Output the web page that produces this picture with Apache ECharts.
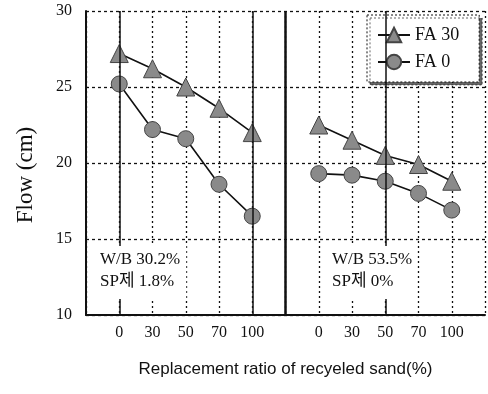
<!DOCTYPE html>
<html><head><meta charset="utf-8">
<script src="https://cdn.jsdelivr.net/npm/echarts@6/dist/echarts.min.js"></script>
<style>html,body{margin:0;padding:0;background:#fff}#c{width:488px;height:394px}</style>
</head><body><div id="c"></div>
<script>
const categories = ['', '0', '30', '50', '70', '100', '', '0', '30', '50', '70', '100', ''];
const fa30Left = [27.2, 26.2, 25.0, 23.6, 22.0];
const fa0Left = [25.2, 22.2, 21.6, 18.6, 16.5];
const fa30Right = [22.5, 21.5, 20.5, 19.9, 18.8];
const fa0Right = [19.3, 19.2, 18.8, 18.0, 16.9];
const yTicks = [10, 15, 20, 25, 30];
const seriesNames = ['FA 30', 'FA 0'];
const notesLeft = ['W/B 30.2%', 'SP제 1.8%'];
const notesRight = ['W/B 53.5%', 'SP제 0%'];

function joinPanels(a, b) { return [null].concat(a, [null], b, [null]); }

const serif = '"Liberation Serif", "Noto Sans CJK KR", serif';
const chart = echarts.init(document.getElementById('c'));
const solidLines = {
  silent: true, symbol: 'none', label: {show: false},
  lineStyle: {color: '#111', type: 'solid', width: 1.5},
  data: [{xAxis: 1}, {xAxis: 5}, {xAxis: 6, lineStyle: {width: 2.5}}, {xAxis: 9}]
};
chart.setOption({
  animation: false,
  backgroundColor: '#fff',
  grid: {left: 86, right: 0, top: 11, bottom: 79},
  xAxis: {
    type: 'category', data: categories, boundaryGap: false,
    axisLine: {lineStyle: {color: '#111', width: 2}},
    axisTick: {show: false},
    axisLabel: {color: '#111', fontFamily: serif, fontSize: 16, margin: 10, interval: 0},
    splitLine: {show: true, lineStyle: {color: '#111', type: [2, 3], width: 1.3}},
    name: 'Replacement ratio of recyeled sand(%)', nameLocation: 'middle', nameGap: 46,
    nameTextStyle: {color: '#111', fontFamily: '"Liberation Sans", Arial, sans-serif', fontSize: 17}
  },
  yAxis: {
    type: 'value', min: yTicks[0], max: yTicks[yTicks.length - 1], interval: 5,
    axisLine: {show: true, lineStyle: {color: '#111', width: 2}},
    axisTick: {show: false},
    axisLabel: {color: '#111', fontFamily: serif, fontSize: 16, margin: 14},
    splitLine: {show: true, lineStyle: {color: '#111', type: [3, 3], width: 1.3}},
    name: 'Flow (cm)', nameLocation: 'middle', nameGap: 49,
    nameTextStyle: {color: '#111', fontFamily: serif, fontSize: 23, padding: [0, 0, 0, -24]}
  },
  legend: {
    left: 367, top: 15, orient: 'vertical', itemGap: 9, itemWidth: 32, itemHeight: 18,
    padding: [11, 20, 11, 10],
    backgroundColor: '#fff', borderColor: '#111', borderWidth: 1, borderType: [2, 2],
    shadowColor: 'rgba(0,0,0,0.6)', shadowOffsetX: 3, shadowOffsetY: 3, shadowBlur: 0,
    textStyle: {color: '#111', fontFamily: serif, fontSize: 18},
    data: seriesNames
  },
  series: [
    {
      name: seriesNames[0], type: 'line', data: joinPanels(fa30Left, fa30Right),
      symbol: 'triangle', symbolSize: 18, connectNulls: false,
      lineStyle: {color: '#111', width: 1.6},
      itemStyle: {color: '#8a8a8a', borderColor: '#444', borderWidth: 1},
      markLine: solidLines, z: 3
    },
    {
      name: seriesNames[1], type: 'line', data: joinPanels(fa0Left, fa0Right),
      symbol: 'circle', symbolSize: 16, connectNulls: false,
      lineStyle: {color: '#111', width: 1.6},
      itemStyle: {color: '#8a8a8a', borderColor: '#444', borderWidth: 1}, z: 3
    }
  ],
  graphic: [
    {type: 'text', left: 96, top: 246, z: 10, style: {text: notesLeft.join('\n'), font: '17px ' + serif, fill: '#111', lineHeight: 22, backgroundColor: '#fff', padding: [3, 6, 6, 4]}},
    {type: 'text', left: 328, top: 246, z: 10, style: {text: notesRight.join('\n'), font: '17px ' + serif, fill: '#111', lineHeight: 22, backgroundColor: '#fff', padding: [3, 0, 6, 4]}}
  ]
});
</script></body></html>
